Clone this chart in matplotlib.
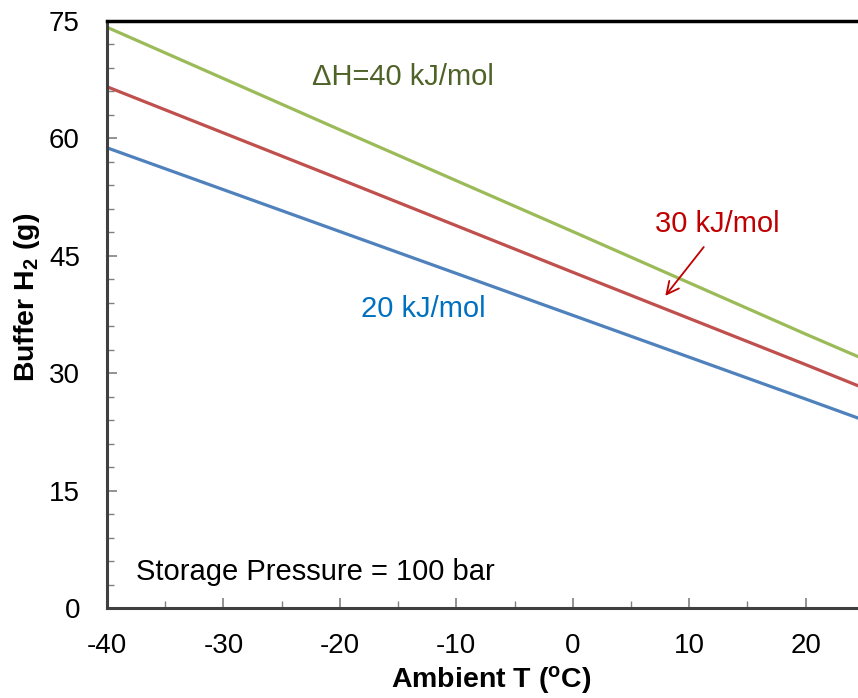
import matplotlib
matplotlib.use("Agg")
import matplotlib.pyplot as plt
from matplotlib.ticker import MultipleLocator

plt.rcParams['font.family'] = ['Liberation Sans', 'DejaVu Sans']
plt.rcParams['mathtext.fontset'] = 'custom'
plt.rcParams['mathtext.rm'] = 'Liberation Sans'
plt.rcParams['mathtext.bf'] = 'Liberation Sans:bold'
plt.rcParams['mathtext.it'] = 'Liberation Sans:italic'
plt.rcParams['axes.unicode_minus'] = False

# Data
temps = [-40, -20, 0, 20, 25]
h40 = [74.2, 61.1, 48.1, 35.0, 31.8]
h30 = [66.6, 54.8, 42.9, 31.1, 28.1]
h20 = [58.8, 48.1, 37.4, 26.7, 24.0]

W, H = 858, 698
fig = plt.figure(figsize=(W / 100, H / 100), dpi=100)
ax = fig.add_axes([107 / W, 1 - 608 / H, 1 - 107 / W, (608 - 21) / H])

ax.plot(temps, h20, color='#4F81BD', lw=2.3)
ax.plot(temps, h30, color='#C0504D', lw=2.3)
ax.plot(temps, h40, color='#9BBB59', lw=2.3)

ax.set_xlim(-40, 24.5)
ax.set_ylim(0, 75)
ax.xaxis.set_major_locator(MultipleLocator(10))
ax.xaxis.set_minor_locator(MultipleLocator(5))
ax.yaxis.set_major_locator(MultipleLocator(15))
ax.yaxis.set_minor_locator(MultipleLocator(3))
ax.tick_params(which='both', direction='in', labelsize=20, color='#808080')
ax.tick_params(which='major', length=7, width=1.2)
ax.tick_params(which='minor', length=5, width=1.0)
ax.tick_params(axis='x', pad=18)
ax.tick_params(axis='y', pad=19.5)

for s in ['left', 'bottom']:
    ax.spines[s].set_color('#404040')
    ax.spines[s].set_linewidth(2.2)
ax.spines['top'].set_color('black')
ax.spines['top'].set_linewidth(2.5)
ax.spines['right'].set_visible(False)

fig.text(491 / W, 1 - 680 / H, r'Ambient T ($^\mathbf{o}$C)', fontsize=20.5,
         fontweight='bold', ha='center', va='center')
fig.text(27 / W, 1 - 297 / H, r'Buffer H$_\mathbf{2}$ (g)', fontsize=20.5,
         fontweight='bold', ha='center', va='center', rotation=90)

ax.text(-14.6, 67.8, u'\u0394H=40 kJ/mol', color='#4F6228', fontsize=21, ha='center', va='center')
ax.text(12.45, 49.1, '30 kJ/mol', color='#C00000', fontsize=21, ha='center', va='center')
ax.text(-12.8, 38.2, '20 kJ/mol', color='#0070C0', fontsize=21, ha='center', va='center')
ax.text(-37.5, 4.6, 'Storage Pressure = 100 bar', color='black', fontsize=21, ha='left', va='center')
ax.annotate('', xy=(7.8, 39.6), xytext=(11.4, 46.4),
            arrowprops=dict(arrowstyle='->', color='#C00000', lw=1.3, mutation_scale=22))

fig.savefig('out.png', dpi=100)
